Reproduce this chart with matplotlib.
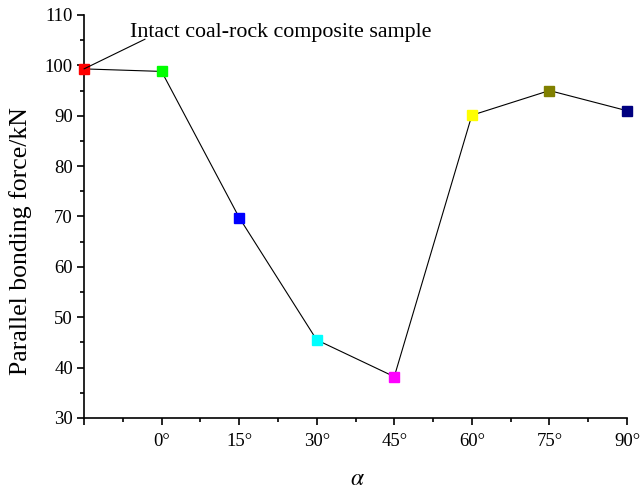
import matplotlib
matplotlib.use("Agg")
import matplotlib.pyplot as plt
from matplotlib.ticker import MultipleLocator

categories = ["", "0°", "15°", "30°", "45°", "60°", "75°", "90°"]
values = [99.3, 98.8, 69.8, 45.5, 38.2, 90.1, 95.0, 91.0]
colors = ["#ff0000", "#00ff00", "#0000ff", "#00ffff", "#ff00ff", "#ffff00", "#808000", "#000080"]

plt.rcParams['font.family'] = ['Liberation Serif', 'DejaVu Serif']
plt.rcParams['mathtext.fontset'] = 'stix'

W, H = 641, 490
fig = plt.figure(figsize=(W / 100, H / 100), dpi=100)
ax = fig.add_axes([84 / W, 1 - 418 / H, (627 - 84) / W, (418 - 15) / H])

x = list(range(len(values)))
ax.plot(x, values, color='black', lw=0.8, zorder=2, clip_on=False)
for xi, v, c in zip(x, values, colors):
    ax.plot([xi], [v], marker='s', ms=7.5, color=c, mec=c, ls='none', zorder=3, clip_on=False)

ax.set_xlim(0, 7)
ax.set_ylim(30, 110)
ax.set_xticks(x)
ax.set_xticklabels(categories)
ax.xaxis.set_minor_locator(MultipleLocator(0.5))
ax.yaxis.set_major_locator(MultipleLocator(10))
ax.yaxis.set_minor_locator(MultipleLocator(5))

for s in ['top', 'right']:
    ax.spines[s].set_visible(False)
for s in ['left', 'bottom']:
    ax.spines[s].set_linewidth(1.2)

ax.tick_params(axis='both', which='major', direction='out', length=5, width=1.2, labelsize=13.5)
ax.tick_params(axis='both', which='minor', direction='out', length=3, width=1.2)
ax.tick_params(axis='x', pad=6)
ax.tick_params(axis='y', pad=3)

ax.set_ylabel("Parallel bonding force/kN", fontsize=18.5, ha='center', va='center')
ax.yaxis.set_label_coords((21 - 84) / (627 - 84), (418 - 241) / (418 - 15))
ax.set_xlabel(r"$\alpha$", fontsize=17, ha='center', va='center')
ax.xaxis.set_label_coords((357 - 84) / (627 - 84), (418 - 479) / (418 - 15))

ax.annotate("Intact coal-rock composite sample", xy=(x[0], values[0]),
            xytext=(130, H - 37), textcoords='figure pixels',
            fontsize=15.8, va='baseline', ha='left',
            arrowprops=dict(arrowstyle='-', color='black', lw=0.8,
                            shrinkA=0, shrinkB=0, patchA=None,
                            relpos=(0.05, 0.15)),
            annotation_clip=False)

fig.savefig("out.png", dpi=100)
